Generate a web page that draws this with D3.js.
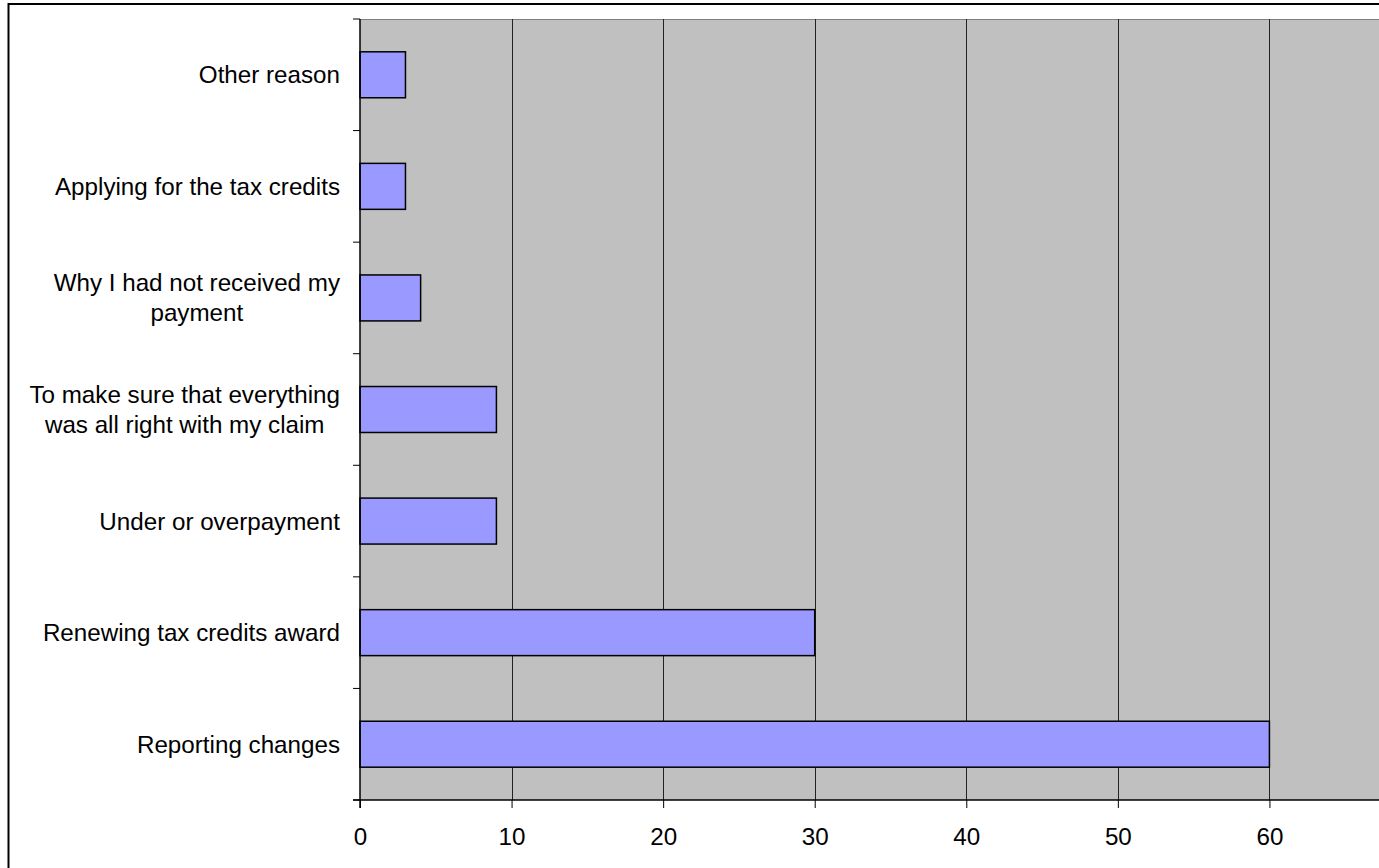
<!DOCTYPE html>
<html>
<head>
<meta charset="utf-8">
<script src="https://cdn.jsdelivr.net/npm/d3@7"></script>
<style>
  html, body { margin: 0; padding: 0; background: #fff; overflow: hidden; }
  svg { display: block; }
  text { font-family: "Liberation Sans", Arial, sans-serif; fill: #000; }
</style>
</head>
<body>
<svg id="chart" width="1379" height="868"></svg>
<script>
// Data (top to bottom)
const categories = [
  ["Other reason"],
  ["Applying for the tax credits"],
  ["Why I had not received my", "payment"],
  ["To make sure that everything", "was all right with my claim"],
  ["Under or overpayment"],
  ["Renewing tax credits award"],
  ["Reporting changes"]
];
const values = [3, 3, 4, 9, 9, 30, 60];
const xTickValues = [0, 10, 20, 30, 40, 50, 60];
const xDomain = [0, 70];

const svg = d3.select("#chart");
const fontSize = 24.2;
const plotLeft = 360, plotRight = 1421, plotTop = 19, plotBottom = 800;

// outer frame
svg.append("rect")
  .attr("x", 8.5).attr("y", 4).attr("width", 1500).attr("height", 1000)
  .attr("fill", "#fff").attr("stroke", "#000").attr("stroke-width", 2);

const x = d3.scaleLinear().domain(xDomain).range([plotLeft, plotRight]);
const keys = categories.map((c, i) => i);
const pad = 0.588;
const y = d3.scaleBand().domain(keys).range([plotTop, plotBottom])
  .paddingInner(pad).paddingOuter(pad / 2);

// plot background
svg.append("rect")
  .attr("x", plotLeft).attr("y", plotTop)
  .attr("width", plotRight - plotLeft).attr("height", plotBottom - plotTop)
  .attr("fill", "#C0C0C0");

// top border of plot
svg.append("line")
  .attr("x1", plotLeft).attr("x2", plotRight)
  .attr("y1", plotTop + 0.5).attr("y2", plotTop + 0.5)
  .attr("stroke", "#808080").attr("stroke-width", 1);

// vertical gridlines
svg.append("g").selectAll("line")
  .data(xTickValues.filter(v => v > 0))
  .join("line")
  .attr("x1", d => Math.round(x(d)) + 0.5).attr("x2", d => Math.round(x(d)) + 0.5)
  .attr("y1", plotTop).attr("y2", plotBottom)
  .attr("stroke", "#222").attr("stroke-width", 1);

// bars
svg.append("g").selectAll("rect")
  .data(values)
  .join("rect")
  .attr("x", x(0))
  .attr("y", (d, i) => y(i))
  .attr("width", d => x(d) - x(0))
  .attr("height", y.bandwidth())
  .attr("fill", "#9999FF")
  .attr("stroke", "#000")
  .attr("stroke-width", 1.5);

// x axis
const xAxis = d3.axisBottom(x).tickValues(xTickValues).tickSize(8).tickPadding(20)
  .tickFormat(d3.format("d"));
const gx = svg.append("g").attr("transform", `translate(0,${plotBottom})`).call(xAxis);
gx.select(".domain").remove();
gx.selectAll(".tick line").attr("stroke", "#000");
gx.selectAll(".tick text").style("font-size", fontSize + "px")
  .style("font-family", '"Liberation Sans", Arial, sans-serif').attr("fill", "#000");
svg.append("line")
  .attr("x1", plotLeft - 7).attr("x2", plotRight)
  .attr("y1", plotBottom).attr("y2", plotBottom)
  .attr("stroke", "#000").attr("stroke-width", 1.5);

// y axis line and ticks at category boundaries
svg.append("line")
  .attr("x1", plotLeft).attr("x2", plotLeft)
  .attr("y1", plotTop).attr("y2", plotBottom + 8)
  .attr("stroke", "#000").attr("stroke-width", 1.5);
const step = y.step();
const boundaries = keys.map(k => y(k) - (step - y.bandwidth()) / 2).concat([plotBottom]);
svg.append("g").selectAll("line")
  .data(boundaries)
  .join("line")
  .attr("x1", plotLeft - 7).attr("x2", plotLeft)
  .attr("y1", d => d).attr("y2", d => d)
  .attr("stroke", "#000").attr("stroke-width", 1);

// category labels (multi-line, centered block, right aligned)
const lineH = 30;
const labelRight = 340;
const lg = svg.append("g");
categories.forEach((lines, i) => {
  const cy = y(i) + y.bandwidth() / 2;
  const t = lg.append("text").style("font-size", fontSize + "px").attr("text-anchor", "middle");
  const spans = lines.map((ln, j) => t.append("tspan").text(ln));
  let maxW = 0;
  spans.forEach(s => { maxW = Math.max(maxW, s.node().getComputedTextLength()); });
  const cx = labelRight - maxW / 2;
  const y0 = cy - (lines.length - 1) * lineH / 2;
  spans.forEach((s, j) => {
    s.attr("x", cx).attr("y", y0 + j * lineH).attr("dy", "0.35em");
  });
});
</script>
</body>
</html>
